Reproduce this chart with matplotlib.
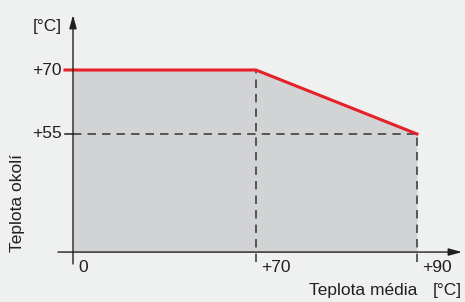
import numpy as np
import matplotlib.pyplot as plt

# working curve: ambient temperature limit vs. medium temperature
x_media = [0, 70, 90]
y_okoli = [70, 70, 55]
x_ticks = [0, 70, 90]
x_tick_labels = ['0', '+70', '+90']
y_ticks = [70, 55]
y_tick_labels = ['+70', '+55']

plt.rcParams['font.family'] = ['Liberation Sans', 'DejaVu Sans']


# the x axis of the drawing is not linear: 0..70 is wider than 70..90
def forward(x):
    x = np.asarray(x, dtype=float)
    return np.where(x <= 70, x * 183 / 70, 183 + (x - 70) * 161 / 20)


def inverse(p):
    p = np.asarray(p, dtype=float)
    return np.where(p <= 183, p * 70 / 183, 70 + (p - 183) * 20 / 161)


bg = '#eff0f0'
dark = '#231f20'
red = '#e52228'

fig = plt.figure(figsize=(4.65, 3.02), dpi=100, facecolor=bg)
ax = fig.add_axes([58 / 465, 38 / 302, 404 / 465, 249 / 302])
ax.set_facecolor(bg)
ax.set_xscale('function', functions=(forward, inverse))
xmin, xmax = -5.74, 95.6
ymin, ymax = 24.5, 82.9
y0 = 27.3
ax.set_xlim(xmin, xmax)
ax.set_ylim(ymin, ymax)
for s in ax.spines.values():
    s.set_visible(False)
ax.set_xticks([])
ax.set_yticks([])

ax.fill_between(x_media, y_okoli, y0, color='#d2d3d5', lw=0, zorder=1)

dash = (0, (5.5, 4))
ax.hlines(y_okoli[-1], x_media[0], x_media[-1], colors='#333333', lw=1.1,
          linestyles=dash, zorder=2)
ax.vlines(x_media[1], 25.0, y_okoli[1], colors='#333333', lw=1.1,
          linestyles=dash, zorder=2)
ax.vlines(x_media[2], 25.0, y_okoli[2], colors='#333333', lw=1.1,
          linestyles=dash, zorder=2)

# short y tick stubs left of the axis
stub = -3.06
for v in y_ticks:
    ax.plot([stub, 0], [v, v], color=dark, lw=1.1, zorder=3)

ax.plot([stub] + x_media, [y_okoli[0]] + y_okoli, color=red, lw=2.2,
        solid_joinstyle='miter', zorder=4)

# axes with arrows
ax.annotate('', xy=(xmax, y0), xytext=(xmin, y0),
            arrowprops=dict(arrowstyle='-|>,head_length=0.8,head_width=0.22',
                            lw=1, color=dark, shrinkA=0, shrinkB=0), zorder=5)
ax.annotate('', xy=(0, ymax), xytext=(0, ymin),
            arrowprops=dict(arrowstyle='-|>,head_length=0.8,head_width=0.22',
                            lw=1, color=dark, shrinkA=0, shrinkB=0), zorder=5)

fs = 12.5
for v, lab in zip(y_ticks, y_tick_labels):
    ax.annotate(lab, (0, v), xytext=(-8, 0), textcoords='offset points',
                ha='right', va='center', fontsize=fs, color=dark)
for v, lab in zip(x_ticks, x_tick_labels):
    ax.annotate(lab, (v, y0), xytext=(4, -6), textcoords='offset points',
                ha='left', va='top', fontsize=fs, color=dark)

ax.annotate('[°C]', (0, ymax), xytext=(-8, -8), textcoords='offset points',
            ha='right', va='center', fontsize=fs, color=dark)
ax.annotate('Teplota okolí', (0, y0), xytext=(-40, 0), textcoords='offset points',
            ha='center', va='bottom', rotation=90, fontsize=fs, color=dark,
            annotation_clip=False)
ax.annotate('Teplota média', (90, y0), xytext=(0, -22), textcoords='offset points',
            ha='right', va='top', fontsize=fs, color=dark, annotation_clip=False)
ax.annotate('[°C]', (xmax, y0), xytext=(0, -22), textcoords='offset points',
            ha='right', va='top', fontsize=fs, color=dark, annotation_clip=False)

fig.savefig('out.png', dpi=100, facecolor=bg)
